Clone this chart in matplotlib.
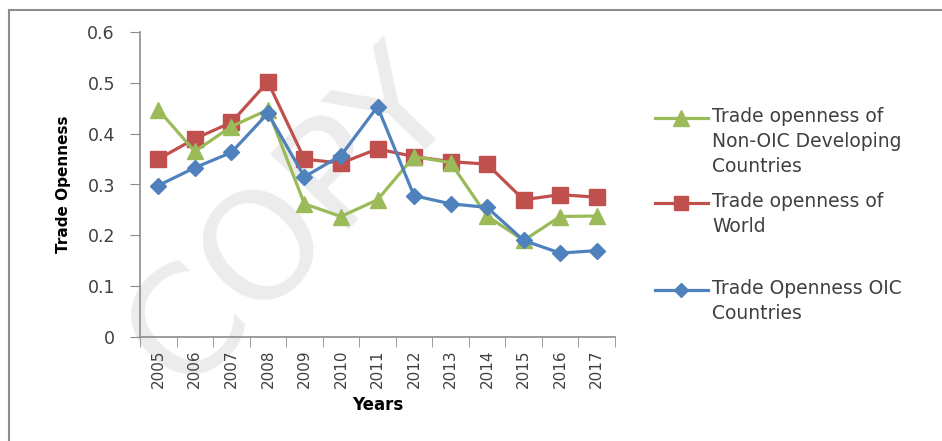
import numpy as np
import matplotlib.pyplot as plt
from matplotlib.lines import Line2D
from matplotlib.patches import Rectangle

years = ["2005", "2006", "2007", "2008", "2009", "2010", "2011",
         "2012", "2013", "2014", "2015", "2016", "2017"]
non_oic = [0.447, 0.365, 0.414, 0.447, 0.262, 0.237, 0.270,
           0.355, 0.343, 0.238, 0.190, 0.237, 0.238]
world = [0.350, 0.390, 0.422, 0.502, 0.350, 0.342, 0.370,
         0.355, 0.345, 0.340, 0.270, 0.280, 0.275]
oic = [0.298, 0.333, 0.363, 0.440, 0.315, 0.357, 0.453,
       0.278, 0.262, 0.255, 0.190, 0.165, 0.170]

green = "#9bbb59"
red = "#c0504d"
blue = "#4f81bd"
txt = "#404040"

fig = plt.figure(figsize=(9.42, 4.41), dpi=100)

# faint watermark behind the chart
fig.text(0.31, 0.50, "COPY", fontsize=108, color="#ececec", rotation=46,
         ha="center", va="center", zorder=-1)

# outer frame
fig.add_artist(Rectangle((9 / 942, -0.1), 1.2, 1 - 10 / 441 + 0.1,
                         transform=fig.transFigure, fill=False,
                         edgecolor="#8c8c8c", linewidth=1.5, zorder=-1))

ax = fig.add_axes([140 / 942, 1 - 337 / 441, 475 / 942, 305 / 441])
ax.set_facecolor("none")
ax.set_zorder(1)
x = np.arange(len(years))

ax.plot(x, non_oic, color=green, lw=2.3, marker="^", ms=12, zorder=3)
ax.plot(x, world, color=red, lw=2.3, marker="s", ms=11, zorder=2)
ax.plot(x, oic, color=blue, lw=2.3, marker="D", ms=8, zorder=4)

ax.set_xlim(-0.5, len(years) - 0.5)
ax.set_ylim(0, 0.6)
ax.set_yticks(np.arange(0, 0.61, 0.1))
ax.set_yticklabels(["0", "0.1", "0.2", "0.3", "0.4", "0.5", "0.6"])
ax.set_xticks(x)
ax.set_xticklabels(years, rotation=90)
ax.set_xticks(np.arange(-0.5, len(years)), minor=True)
ax.tick_params(axis="x", which="major", length=0, pad=9, labelsize=11, labelcolor=txt)
ax.tick_params(axis="x", which="minor", length=7, color="#8c8c8c")
ax.tick_params(axis="y", length=7, color="#8c8c8c", labelsize=12.5, labelcolor=txt, pad=11)

for s in ["top", "right"]:
    ax.spines[s].set_visible(False)
for s in ["left", "bottom"]:
    ax.spines[s].set_color("#8c8c8c")
    ax.spines[s].set_linewidth(1.2)

ax.set_xlabel("Years", fontsize=12, fontweight="bold", color="black", labelpad=6)
ax.set_ylabel("Trade Openness", fontsize=11, fontweight="bold", color="black",
              labelpad=12)

# legend drawn to mimic the spreadsheet layout (marker beside the first text line)
entries = [
    (green, "^", 11, 118, "Trade openness of\nNon-OIC Developing\nCountries"),
    (red, "s", 10, 203, "Trade openness of\nWorld"),
    (blue, "D", 7, 290, "Trade Openness OIC\nCountries"),
]
for col, mk, ms, ypix, label in entries:
    yf = 1 - ypix / 441
    fig.add_artist(Line2D([655 / 942, 708 / 942], [yf, yf], color=col, lw=2.3,
                          transform=fig.transFigure))
    fig.add_artist(Line2D([681 / 942], [yf], color=col, marker=mk, ms=ms,
                          transform=fig.transFigure))
    fig.text(712 / 942, yf + 11 / 441, label, fontsize=13.5, color=txt,
             va="top", ha="left", linespacing=1.4)

fig.savefig("out.png", dpi=100)
